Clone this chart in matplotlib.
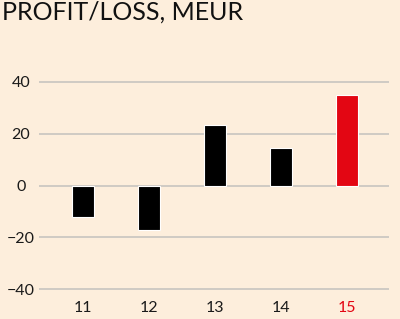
# profit/loss per year, bar chart with the latest year highlighted

import matplotlib
matplotlib.use("Agg")
import matplotlib.pyplot as plt

years = ["11", "12", "13", "14", "15"]
profit = [-12, -17, 23.5, 14.5, 35]
bar_colors = ["#000000", "#000000", "#000000", "#000000", "#e30613"]
label_colors = ["#1a1a1a", "#1a1a1a", "#1a1a1a", "#1a1a1a", "#e30613"]
y_ticks = [-40, -20, 0, 20, 40]

bg = "#fdeedc"
plt.rcParams["font.family"] = ["Lato", "DejaVu Sans"]

fig = plt.figure(figsize=(4.0, 3.19), dpi=100, facecolor=bg)
ax = fig.add_axes([0.0975, 0.0768, 0.875, 0.683])
ax.set_facecolor(bg)

x = list(range(len(years)))
ax.bar(x, profit, width=0.34, color=bar_colors, edgecolor="white",
       linewidth=0.8, zorder=3)

ax.set_xlim(-0.67, 4.64)
ax.set_ylim(-42, 42)
ax.set_yticks(y_ticks)
ax.set_yticklabels([str(t).replace("-", "\u2212") for t in y_ticks])
ax.set_xticks(x)
ax.set_xticklabels(years)
for lab, c in zip(ax.get_xticklabels(), label_colors):
    lab.set_color(c)
for lab in ax.get_yticklabels():
    lab.set_ha("center")
    lab.set_color("#1a1a1a")

ax.grid(axis="y", color="#c8c5c0", linewidth=1.2, zorder=0)
ax.tick_params(axis="both", length=0, labelsize=11.5)
ax.tick_params(axis="y", pad=13)
ax.tick_params(axis="x", pad=5)
for s in ax.spines.values():
    s.set_visible(False)

fig.text(0.005, 0.997, "PROFIT/LOSS, MEUR", ha="left", va="top",
         fontsize=18, color="#111111")

fig.savefig("out.png", dpi=100, facecolor=bg)
